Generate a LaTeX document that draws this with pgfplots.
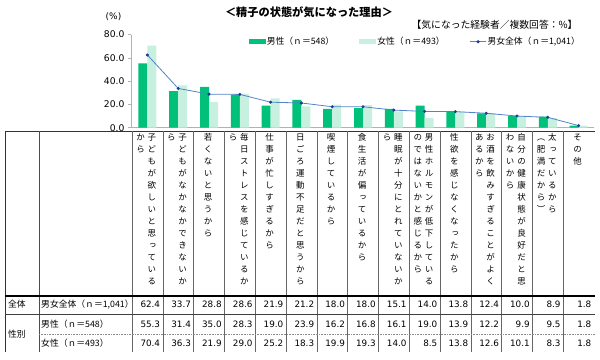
\documentclass[border=0pt]{standalone}
\usepackage{fontspec}
\usepackage{pgfplots}
\pgfplotsset{compat=1.18}
\setmainfont{DejaVu Sans}
\newfontfamily\jp{Noto Sans CJK JP}
\newfontfamily\jpv[RawFeature=+vert]{Noto Sans CJK JP}
\definecolor{men}{RGB}{0,192,122}
\definecolor{women}{RGB}{200,240,224}
\definecolor{lineblue}{RGB}{84,130,200}
\definecolor{markblue}{RGB}{32,60,150}

\ExplSyntaxOn
\NewDocumentCommand\vcol{m}{
  \vtop{\offinterlineskip
    \tl_map_inline:nn {#1} {\hbox_to_wd:nn {10pt}{\hss\rule[-3pt]{0pt}{12pt}##1\hss}}}
}
\ExplSyntaxOff

\newcommand\cx[1]{132+30.8*(#1+0.5)}

\begin{document}
\begin{tikzpicture}
\useasboundingbox (0pt,0pt) rectangle (600pt,-359pt);

\begin{axis}[
  at={(131pt,-127.7pt)}, anchor=south west,
  scale only axis, width=463pt, height=93.2pt,
  xmin=-0.5325, xmax=14.5, ymin=0, ymax=80,
  axis x line*=bottom, axis y line*=left,
  axis line style={draw=black!30, line width=0.6pt},
  xtick=\empty,
  ytick={0,20,40,60,80},
  /pgf/number format/assume math mode=true,
  yticklabel style={font=\fontsize{9.2}{10}\selectfont, /pgf/number format/.cd, fixed, fixed zerofill, precision=1},
  tick align=outside, major tick length=3pt, tick style={draw=black!30, line width=0.6pt},
  clip=false,
  legend columns=3,
  legend style={at={(axis description cs:0.254,0.922)}, anchor=west, draw=none, fill=none, inner sep=0pt,
    font=\jp\fontsize{8.8}{10}\selectfont,
    nodes={inner sep=1pt},
    /tikz/every odd column/.append style={column sep=0pt},
    /tikz/every even column/.append style={column sep=24pt}},
]
\addplot[ybar, bar width=9pt, bar shift=-4.5pt, fill=men, draw=none,
  legend image code/.code={\fill[men] (0pt,-2.5pt) rectangle (17pt,2.5pt);}]
  coordinates {(0,55.3) (1,31.4) (2,35.0) (3,28.3) (4,19.0) (5,23.9) (6,16.2) (7,16.8) (8,16.1) (9,19.0) (10,13.9) (11,12.2) (12,9.9) (13,9.5) (14,1.8)};
\addlegendentry{男性（ｎ＝548）}
\addplot[ybar, bar width=9pt, bar shift=4.5pt, fill=women, draw=none,
  legend image code/.code={\fill[women] (0pt,-2.5pt) rectangle (17pt,2.5pt);}]
  coordinates {(0,70.4) (1,36.3) (2,21.9) (3,29.0) (4,25.2) (5,18.3) (6,19.9) (7,19.3) (8,14.0) (9,8.5) (10,13.8) (11,12.6) (12,10.1) (13,8.3) (14,1.8)};
\addlegendentry{女性（ｎ＝493）}
\addplot[lineblue, line width=0.8pt, mark=*, mark size=1.1pt, mark options={fill=markblue, draw=markblue},
  legend image code/.code={\draw[lineblue, line width=0.8pt] (0pt,0pt) -- (16pt,0pt); \fill[markblue] (8pt,0pt) circle (1.1pt);}]
  coordinates {(0,62.4) (1,33.7) (2,28.8) (3,28.6) (4,21.9) (5,21.2) (6,18.0) (7,18.0) (8,15.1) (9,14.0) (10,13.8) (11,12.4) (12,10.0) (13,8.9) (14,1.8)};
\addlegendentry{男女全体（ｎ＝1,041）}
\end{axis}

\begin{scope}[x=1pt,y=1pt]
% titles
\node[font=\jp\bfseries\fontsize{11.2}{12}\selectfont] at (309,-12.7) {＜精子の状態が気になった理由＞};
\node[anchor=east, font=\jp\fontsize{9.8}{11}\selectfont] at (581,-24.5) {【気になった経験者／複数回答：\%】};
\node[font=\fontsize{9}{10}\selectfont] at (113.5,-16.7) {(\%)};

% table lines
\draw[black!80, line width=0.7pt] (5,-131) -- (595,-131);
\draw[black!80, line width=0.7pt] (5,-131) -- (5,-352);
\draw[black!70, line width=0.6pt] (39,-131) -- (39,-352);
\foreach \i in {0,...,14} {
  \draw[black!60, line width=0.6pt] ({132+30.8*\i},-131) -- ({132+30.8*\i},-352);
}
\draw[black, line width=1.5pt] (5,-296) -- (595,-296);
\draw[black!75, line width=1.1pt] (5,-314.5) -- (595,-314.5);
\draw[black!45, line width=0.6pt, densely dotted] (39,-334.5) -- (595,-334.5);

% header vertical labels
\begin{scope}[every node/.style={anchor=north, inner sep=0pt, font=\jpv\fontsize{8.5}{12}\selectfont}]
\node at ({\cx{0}+4.5},-131.5) {\vcol{子どもが欲しいと思っている}};
\node at ({\cx{0}-6.8},-131.5) {\vcol{から}};
\node at ({\cx{1}+4.5},-131.5) {\vcol{子どもがなかなかできないか}};
\node at ({\cx{1}-6.8},-131.5) {\vcol{ら}};
\node at ({\cx{2}-1},-131.5) {\vcol{若くないと思うから}};
\node at ({\cx{3}+4.5},-131.5) {\vcol{毎日ストレスを感じているか}};
\node at ({\cx{3}-6.8},-131.5) {\vcol{ら}};
\node at ({\cx{4}-1},-131.5) {\vcol{仕事が忙しすぎるから}};
\node at ({\cx{5}-1},-131.5) {\vcol{日ごろ運動不足だと思うから}};
\node at ({\cx{6}-1},-131.5) {\vcol{喫煙しているから}};
\node at ({\cx{7}-1},-131.5) {\vcol{食生活が偏っているから}};
\node at ({\cx{8}+4.5},-131.5) {\vcol{睡眠が十分にとれていないか}};
\node at ({\cx{8}-6.8},-131.5) {\vcol{ら}};
\node at ({\cx{9}+4.5},-131.5) {\vcol{男性ホルモンが低下している}};
\node at ({\cx{9}-6.8},-131.5) {\vcol{のではないかと感じるから}};
\node at ({\cx{10}-1},-131.5) {\vcol{性欲を感じなくなったから}};
\node at ({\cx{11}+4.5},-131.5) {\vcol{お酒を飲みすぎることがよく}};
\node at ({\cx{11}-6.8},-131.5) {\vcol{あるから}};
\node at ({\cx{12}+4.5},-131.5) {\vcol{自分の健康状態が良好だと思}};
\node at ({\cx{12}-6.8},-131.5) {\vcol{わないから}};
\node at ({\cx{13}+4.5},-131.5) {\vcol{太っているから}};
\node at ({\cx{13}-6.8},-131.5) {\vcol{（肥満だから）}};
\node at ({\cx{14}-1},-131.5) {\vcol{その他}};
\end{scope}

% row labels
\begin{scope}[every node/.style={anchor=west, inner sep=0pt, font=\jp\fontsize{8.8}{10}\selectfont}]
\node at (8,-304.5) {全体};
\node at (8,-334) {性別};
\node at (41,-304.5) {男女全体（ｎ＝1,041）};
\node at (41,-324.5) {男性（ｎ＝548）};
\node at (41,-343.5) {女性（ｎ＝493）};
\end{scope}

% values
\begin{scope}[every node/.style={anchor=east, inner sep=0pt, font=\fontsize{8.8}{10}\selectfont}]
\foreach \v [count=\i from 1] in {62.4,33.7,28.8,28.6,21.9,21.2,18.0,18.0,15.1,14.0,13.8,12.4,10.0,8.9,1.8}
  \node at ({132+30.8*\i-2.5},-304.5) {\v};
\foreach \v [count=\i from 1] in {55.3,31.4,35.0,28.3,19.0,23.9,16.2,16.8,16.1,19.0,13.9,12.2,9.9,9.5,1.8}
  \node at ({132+30.8*\i-2.5},-324.5) {\v};
\foreach \v [count=\i from 1] in {70.4,36.3,21.9,29.0,25.2,18.3,19.9,19.3,14.0,8.5,13.8,12.6,10.1,8.3,1.8}
  \node at ({132+30.8*\i-2.5},-343.5) {\v};
\end{scope}
\end{scope}
\end{tikzpicture}
\end{document}
